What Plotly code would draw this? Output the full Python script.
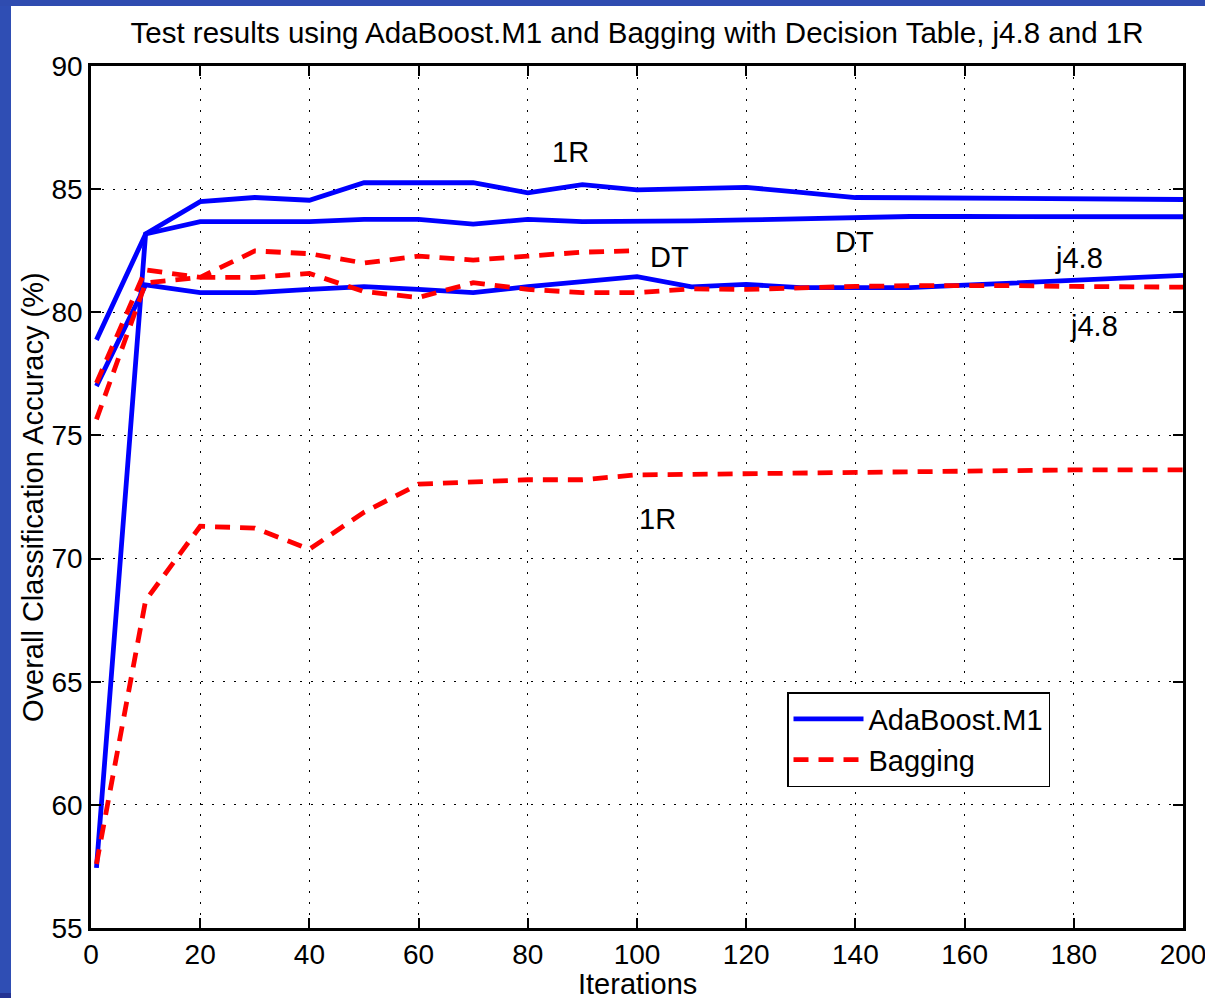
import plotly.graph_objects as go

# ---------------- data ----------------
iterations = [1, 10, 20, 30, 40, 50, 60, 70, 80, 90, 100,
              110, 120, 130, 140, 150, 160, 170, 180, 190, 200]
iterations_dt_bag = [1, 10, 20, 30, 40, 50, 60, 70, 80, 90, 100]

ada_1r = [57.44, 83.18, 84.49, 84.66, 84.55, 85.26, 85.26, 85.26, 84.85, 85.18, 84.97,
          85.02, 85.07, 84.87, 84.66, 84.65, 84.63, 84.62, 84.60, 84.59, 84.58]
ada_dt = [78.88, 83.18, 83.68, 83.68, 83.68, 83.77, 83.77, 83.58, 83.77, 83.68, 83.68,
          83.71, 83.75, 83.80, 83.85, 83.89, 83.89, 83.89, 83.89, 83.88, 83.88]
ada_j48 = [77.00, 81.11, 80.80, 80.80, 80.93, 81.04, 80.93, 80.80, 81.04, 81.25, 81.45,
           81.03, 81.13, 81.00, 81.00, 81.00, 81.10, 81.20, 81.30, 81.40, 81.50]

bag_dt = [77.13, 81.72, 81.42, 82.49, 82.38, 82.00, 82.28, 82.12, 82.28, 82.44, 82.50]
bag_j48 = [75.65, 81.19, 81.42, 81.42, 81.58, 80.84, 80.60, 81.20, 80.93, 80.80, 80.80,
           80.95, 80.93, 81.00, 81.05, 81.08, 81.10, 81.08, 81.05, 81.03, 81.02]
bag_1r = [57.60, 68.30, 71.31, 71.24, 70.38, 71.88, 73.02, 73.10, 73.20, 73.20, 73.40,
          73.42, 73.45, 73.48, 73.50, 73.52, 73.55, 73.57, 73.60, 73.60, 73.60]

x_ticks = [0, 20, 40, 60, 80, 100, 120, 140, 160, 180, 200]
y_ticks = [55, 60, 65, 70, 75, 80, 85, 90]

labels_text = ["1R", "DT", "DT", "j4.8", "j4.8", "1R"]
labels_x = [87.9, 106.0, 139.9, 181.0, 183.7, 103.8]
labels_y = [86.5, 82.25, 82.85, 82.2, 79.45, 71.6]

title = "Test results using AdaBoost.M1 and Bagging with Decision Table, j4.8 and 1R"
x_title = "Iterations"
y_title = "Overall Classification Accuracy (%)"

# ---------------- figure ----------------
FONT = "Liberation Sans, Arial, Helvetica, sans-serif"
BLUE = "#0000ff"
RED = "#ff0000"
DASH = "15px,10px"
FS = 29

W, H = 1205, 998
L, R, T, B = 91, 1183, 66, 928


def px2x(px):
    return (px - L) / (R - L)


def py2y(py):
    return (B - py) / (B - T)


fig = go.Figure()

ada_series = [ada_1r, ada_dt, ada_j48]
for i, ys in enumerate(ada_series):
    fig.add_trace(go.Scatter(x=iterations, y=ys, mode="lines",
                             line=dict(color=BLUE, width=4.8),
                             name="AdaBoost.M1",
                             showlegend=(i == 0)))

bag_series = [(iterations_dt_bag, bag_dt), (iterations, bag_j48), (iterations, bag_1r)]
for i, (xs, ys) in enumerate(bag_series):
    fig.add_trace(go.Scatter(x=xs, y=ys, mode="lines",
                             line=dict(color=RED, width=4.8, dash=DASH),
                             name="Bagging",
                             showlegend=(i == 0)))

for t, lx, ly in zip(labels_text, labels_x, labels_y):
    fig.add_annotation(x=lx, y=ly, xref="x", yref="y", text=t, showarrow=False,
                       font=dict(size=FS, color="black", family=FONT))

# axis titles as annotations for exact placement
fig.add_annotation(x=0.5, y=py2y(984), xref="paper", yref="paper",
                   text=x_title, showarrow=False, yanchor="middle",
                   font=dict(size=FS, color="black", family=FONT))
fig.add_annotation(x=px2x(33), y=0.5, xref="paper", yref="paper", text=y_title,
                   textangle=-90, showarrow=False, xanchor="center",
                   font=dict(size=FS, color="black", family=FONT))

# slide-style blue border (left and top strips)
fig.add_shape(type="rect", xref="paper", yref="paper",
              x0=px2x(0), x1=px2x(11), y0=py2y(H), y1=py2y(0),
              fillcolor="#2f4eb4", line=dict(width=0))
fig.add_shape(type="rect", xref="paper", yref="paper",
              x0=px2x(0), x1=px2x(W), y0=py2y(6), y1=py2y(0),
              fillcolor="#2f4cb0", line=dict(width=0))
fig.add_shape(type="rect", xref="paper", yref="paper",
              x0=px2x(0), x1=px2x(11), y0=py2y(H), y1=py2y(993),
              fillcolor="#243393", line=dict(width=0))

axis_common = dict(
    showline=True, linecolor="black", linewidth=2.5,
    mirror="ticks", ticks="inside", ticklen=10, tickwidth=2, tickcolor="black",
    showgrid=True, gridcolor="black", gridwidth=1, griddash="2px,9px",
    zeroline=False, ticklabeloverflow="allow", automargin=False,
    tickfont=dict(size=28, color="black", family=FONT),
)

fig.update_xaxes(range=[0, 200], tickvals=x_ticks, **axis_common)
fig.update_yaxes(range=[55, 90], tickvals=y_ticks, **axis_common)

fig.update_layout(
    width=W, height=H, autosize=False,
    margin=dict(l=L, r=W - R, t=T, b=H - B, autoexpand=False),
    paper_bgcolor="white", plot_bgcolor="white",
    font=dict(family=FONT, color="black"),
    title=dict(text=title, x=0.5, xanchor="center", xref="paper",
               y=1 - 33 / H, yref="container", yanchor="middle",
               font=dict(size=29.5, color="black", family=FONT)),
    legend=dict(x=px2x(787), y=py2y(692), xanchor="left", yanchor="top",
                bgcolor="white", bordercolor="black", borderwidth=1.5,
                font=dict(size=FS, color="black", family=FONT),
                itemwidth=70, tracegroupgap=0),
    showlegend=True,
)

fig.write_html("out.html",
               config={"responsive": False, "displayModeBar": False},
               post_script="document.body.style.margin='0';document.body.style.overflow='hidden';")
